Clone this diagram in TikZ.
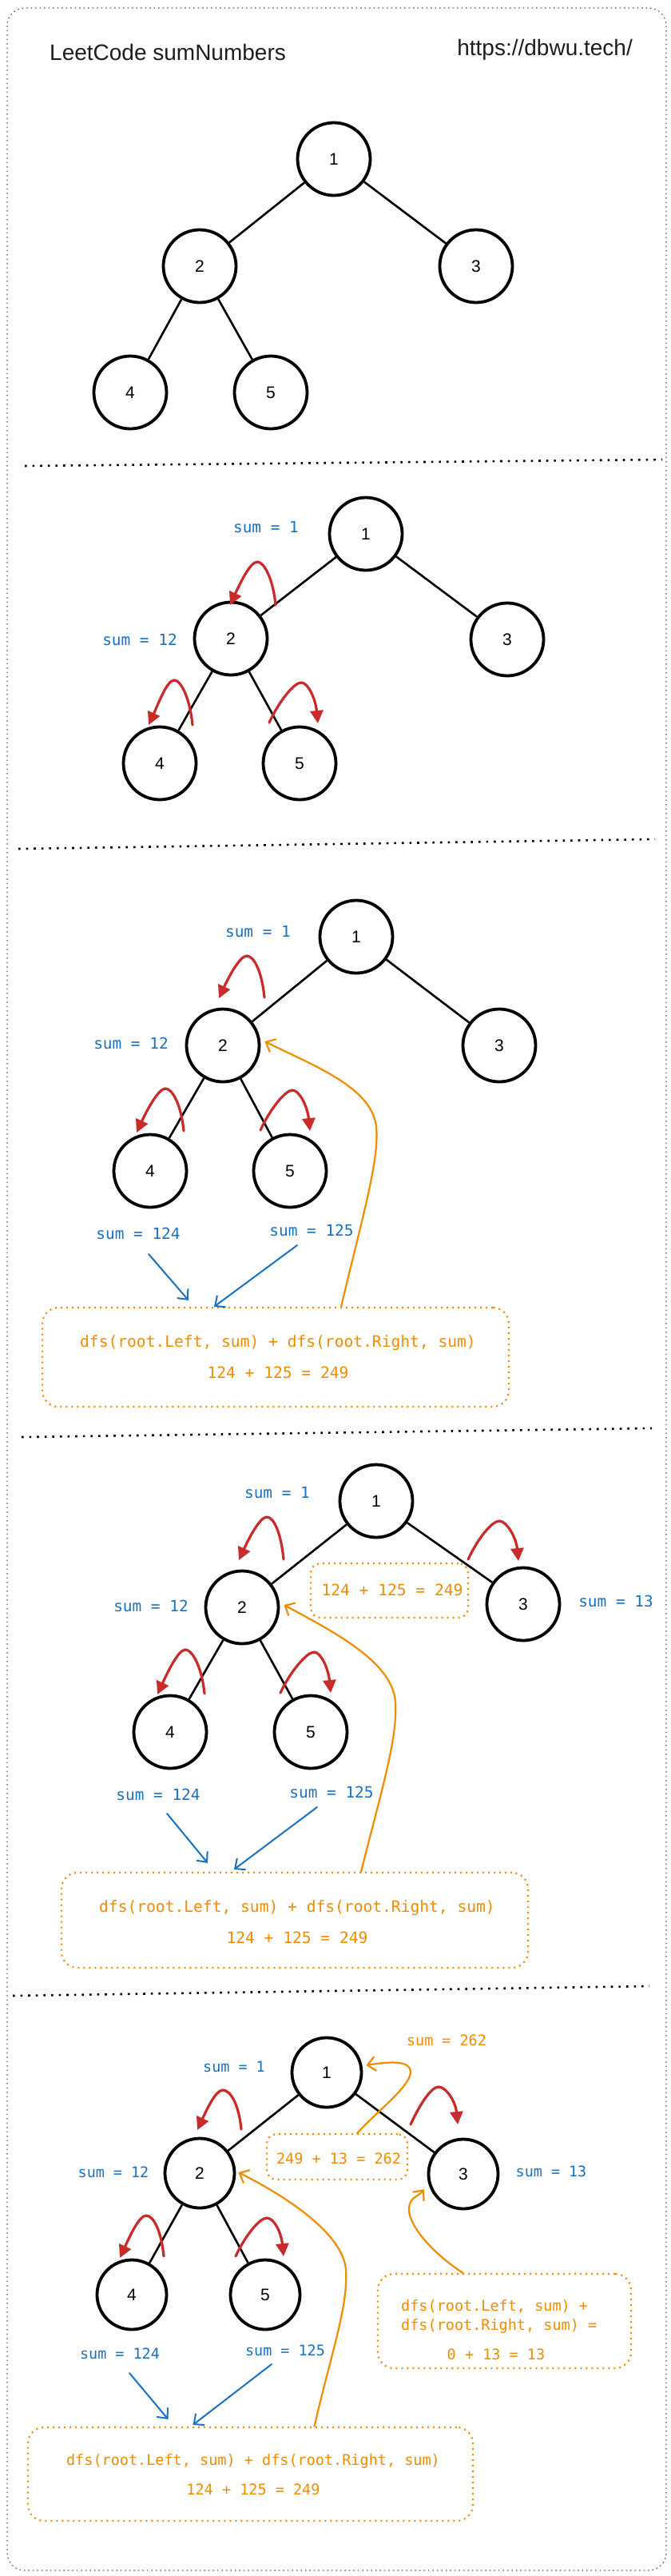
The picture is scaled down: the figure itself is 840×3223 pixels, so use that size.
\documentclass[tikz,border=0pt]{standalone}
\usepackage{fontspec}
\setmainfont{Liberation Sans}
\newfontfamily\monof{DejaVu Sans Mono}
\usetikzlibrary{arrows.meta,calc}
\definecolor{skblue}{HTML}{1971C2}
\definecolor{skred}{HTML}{C92A2A}
\definecolor{skorange}{HTML}{F08C00}
\definecolor{sktitle}{HTML}{1E1E1E}
\definecolor{skgray}{HTML}{555555}
\tikzset{
  tn/.style={circle, draw=black, line width=3.8pt, minimum size=91pt, inner sep=0pt, font=\fontsize{21}{21}\selectfont},
  tnf/.style={tn, minimum size=87pt},
  edge/.style={line width=2.6pt, black},
  lbl/.style={text=skblue, inner sep=0pt, font=\monof\fontsize{19.4}{20}\selectfont},
  lblf/.style={text=skblue, inner sep=0pt, font=\monof\fontsize{18.4}{20}\selectfont},
  otext/.style={text=skorange, inner sep=0pt, align=center, font=\monof\fontsize{19.6}{39}\selectfont},
  otextf/.style={text=skorange, inner sep=0pt, align=center, font=\monof\fontsize{18.5}{37}\selectfont},
  redarr/.style={draw=skred, line width=3.2pt, line cap=round, -{Triangle[length=16pt,width=16pt]}},
  bluearr/.style={draw=skblue, line width=2pt, line cap=round, -{Straight Barb[length=10pt,width=18pt]}},
  orarr/.style={draw=skorange, line width=2.2pt, line cap=round, -{Straight Barb[length=10pt,width=18pt]}},
  obox/.style={draw=skorange, line width=2.2pt, dash pattern=on 2pt off 5pt, rounded corners=20pt, inner sep=0pt},
  divider/.style={line width=2.6pt, dash pattern=on 2.6pt off 7pt},
  outer/.style={draw=skgray, line width=1.2pt, dash pattern=on 1.5pt off 4pt, rounded corners=22pt},
}
\newcommand{\loopL}[4]{%
  \coordinate (#1s) at (#2); \coordinate (#1p) at (#3); \coordinate (#1t) at (#4);
  \draw[redarr] (#1s) .. controls +(-3,-32) and +(9,0) .. (#1p) .. controls +(-9,0) and +(12,-26) .. (#1t);}
\newcommand{\loopR}[4]{%
  \coordinate (#1s) at (#2); \coordinate (#1p) at (#3); \coordinate (#1t) at (#4);
  \draw[redarr] (#1s) .. controls +(12,-26) and +(-9,0) .. (#1p) .. controls +(9,0) and +(-3,-30) .. (#1t);}
\begin{document}
\begin{tikzpicture}[x=1pt,y=-1pt]
\fill[white] (0,0) rectangle (840,3223);
\useasboundingbox (0,0) rectangle (840,3223);
\draw[outer] (9,10) rectangle (834,3216);

% title
\node[anchor=west, inner sep=0pt, text=sktitle, font=\fontsize{28}{30}\selectfont] (title) at (62,65) {LeetCode sumNumbers};
\node[anchor=east, inner sep=0pt, text=sktitle, font=\fontsize{28}{30}\selectfont] (url) at (792,62) {https://dbwu.tech/};

% ---------- section 1
\node[tn] (a1) at (418,199) {1};
\node[tn] (a2) at (250,333) {2};
\node[tn] (a3) at (596,333) {3};
\node[tn] (a4) at (163,491) {4};
\node[tn] (a5) at (339,491) {5};
\draw[edge] (a1) -- (a2) (a1) -- (a3) (a2) -- (a4) (a2) -- (a5);

\coordinate (dv1a) at (31,583); \coordinate (dv1b) at (829,575);
\draw[divider] (dv1a) -- (dv1b);

% ---------- section 2
\node[tn] (b1) at (458,668) {1};
\node[tn] (b2) at (289,799) {2};
\node[tn] (b3) at (635,800) {3};
\node[tn] (b4) at (200,955) {4};
\node[tn] (b5) at (375,955) {5};
\draw[edge] (b1) -- (b2) (b1) -- (b3) (b2) -- (b4) (b2) -- (b5);
\node[lbl] (bl1) at (333,660) {sum = 1};
\node[lbl] (bl12) at (175,800) {sum = 12};
\loopL{rb2}{345,757}{322,703}{288,757}
\loopL{rb4}{241,907}{218,851}{186,907}
\loopR{rb5}{337,904}{377,854}{398,905}

\coordinate (dv2a) at (23,1062); \coordinate (dv2b) at (820,1050);
\draw[divider] (dv2a) -- (dv2b);

% ---------- section 3
\node[tn] (c1) at (446,1172) {1};
\node[tn] (c2) at (279,1308) {2};
\node[tn] (c3) at (625,1308) {3};
\node[tn] (c4) at (188,1465) {4};
\node[tn] (c5) at (363,1465) {5};
\draw[edge] (c1) -- (c2) (c1) -- (c3) (c2) -- (c4) (c2) -- (c5);
\node[lbl] (cl1) at (323,1166) {sum = 1};
\node[lbl] (cl12) at (164,1305) {sum = 12};
\node[lbl] (cl124) at (173,1543) {sum = 124};
\node[lbl] (cl125) at (390,1539) {sum = 125};
\loopL{rc2}{331,1248}{309,1196}{274,1249}
\loopL{rc4}{230,1415}{207,1362}{171,1417}
\loopR{rc5}{326,1414}{366,1364}{388,1415}
\node[obox, minimum width=584pt, minimum height=124pt] (cbox) at (345,1698) {};
\node[otext] (ctext) at (348,1698) {dfs(root.Left, sum) + dfs(root.Right, sum)\\124 + 125 = 249};
\coordinate (cb1) at (186,1569); \coordinate (cb2) at (372,1558);
\draw[bluearr] (cb1) -- ($(cbox.north)+(-109,-8)$);
\draw[bluearr] (cb2) -- ($(cbox.north)+(-77,0)$);
\coordinate (cbend) at (471,1410);
\draw[orarr] ($(cbox.north)+(82,0)$) .. controls +(28,-117) and +(4,40) .. (cbend) .. controls +(-5,-50) and +(60,30) .. ($(c2.east)+(5,-5)$);

\coordinate (dv3a) at (27,1798); \coordinate (dv3b) at (816,1787);
\draw[divider] (dv3a) -- (dv3b);

% ---------- section 4
\node[tn] (d1) at (471,1878) {1};
\node[tn] (d2) at (303,2011) {2};
\node[tn] (d3) at (655,2007) {3};
\node[tn] (d4) at (213,2167) {4};
\node[tn] (d5) at (389,2167) {5};
\draw[edge] (d1) -- (d2) (d1) -- (d3) (d2) -- (d4) (d2) -- (d5);
\node[lbl] (dl1) at (347,1868) {sum = 1};
\node[lbl] (dl12) at (189,2009) {sum = 12};
\node[lbl] (dl13) at (771,2003) {sum = 13};
\node[lbl] (dl124) at (198,2245) {sum = 124};
\node[lbl] (dl125) at (415,2242) {sum = 125};
\node[obox, rounded corners=12pt, minimum width=197pt, minimum height=68pt] (dsm) at (487.5,1990) {};
\node[otext] (dsmt) at (491,1989) {124 + 125 = 249};
\loopL{rd2}{355,1951}{334,1898}{299,1952}
\loopR{rd3}{586,1951}{625,1903}{649,1953}
\loopL{rd4}{256,2119}{232,2064}{197,2120}
\loopR{rd5}{351,2118}{393,2067}{414,2118}
\node[obox, minimum width=584pt, minimum height=119pt] (dbox) at (369,2402.5) {};
\node[otext] (dtext) at (372,2405) {dfs(root.Left, sum) + dfs(root.Right, sum)\\124 + 125 = 249};
\coordinate (db1) at (209,2269); \coordinate (db2) at (397,2261);
\draw[bluearr] (db1) -- ($(dbox.north)+(-109,-11)$);
\draw[bluearr] (db2) -- ($(dbox.north)+(-76,-3)$);
\coordinate (dbend) at (495,2130);
\draw[orarr] ($(dbox.north)+(83,0)$) .. controls +(25,-100) and +(3,45) .. (dbend) .. controls +(-3,-50) and +(65,35) .. ($(d2.east)+(5,-3)$);

\coordinate (dv4a) at (16,2497); \coordinate (dv4b) at (813,2485);
\draw[divider] (dv4a) -- (dv4b);

% ---------- section 5
\node[tnf] (e1) at (409,2593) {1};
\node[tnf] (e2) at (250,2719) {2};
\node[tnf] (e3) at (580,2720) {3};
\node[tnf] (e4) at (165,2871) {4};
\node[tnf] (e5) at (332,2871) {5};
\draw[edge] (e1) -- (e2) (e1) -- (e3) (e2) -- (e4) (e2) -- (e5);
\node[lblf] (el1) at (293,2586) {sum = 1};
\node[lblf, text=skorange] (el262) at (559,2553) {sum = 262};
\node[lblf] (el12) at (142,2718) {sum = 12};
\node[lblf] (el13) at (690,2717) {sum = 13};
\node[lblf] (el124) at (150,2945) {sum = 124};
\node[lblf] (el125) at (357,2941) {sum = 125};
\node[obox, rounded corners=12pt, minimum width=176pt, minimum height=57pt] (esm) at (422,2698.5) {};
\node[otextf] (esmt) at (424,2701) {249 + 13 = 262};
\loopL{re2}{302,2664}{279,2615}{247,2665}
\loopR{re3}{514,2658}{549,2611}{573,2658}
\loopL{re4}{205,2823}{183,2772}{150,2825}
\loopR{re5}{295,2823}{334,2775}{355,2823}
\node[obox, minimum width=557pt, minimum height=117pt] (ebox) at (313.5,3095.5) {};
\node[otextf] (etext) at (317,3096.5) {dfs(root.Left, sum) + dfs(root.Right, sum)\\124 + 125 = 249};
\node[obox, minimum width=317pt, minimum height=118pt] (erbox) at (631.5,2904) {};
\node[otextf, anchor=west] (ert1) at (502,2886) {dfs(root.Left, sum) +};
\node[otextf, anchor=west] (ert2) at (502,2910) {dfs(root.Right, sum) =};
\node[otextf] (ert3) at (621,2946) {0 + 13 = 13};
\coordinate (eb1) at (162,2969); \coordinate (eb2) at (340,2958);
\draw[bluearr] (eb1) -- ($(ebox.north)+(-103,-9)$);
\draw[bluearr] (eb2) -- ($(ebox.north)+(-72,-2)$);
\coordinate (ebend) at (433,2840);
\draw[orarr] ($(ebox.north)+(80,0)$) .. controls +(22,-95) and +(3,45) .. (ebend) .. controls +(-3,-45) and +(60,30) .. ($(e2.east)+(3,-1)$);
\coordinate (e1bend) at (514,2592);
\draw[orarr] ($(esm.north)+(25,0)$) .. controls +(28,-30) and +(0,18) .. (e1bend) .. controls +(0,-14) and +(30,-5) .. ($(e1.east)+(4,-9)$);
\coordinate (e3bend) at (512,2762);
\draw[orarr] ($(erbox.north)+(-52,0)$) .. controls +(-45,-30) and +(-2,18) .. (e3bend) .. controls +(2,-14) and +(-8,10) .. ($(e3.205)+(-8,0)$);
\end{tikzpicture}
\end{document}
